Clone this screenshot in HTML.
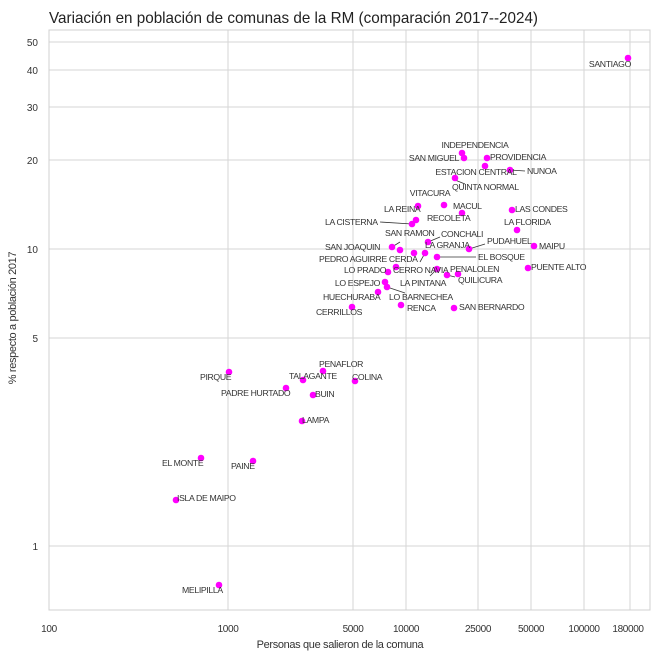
<!DOCTYPE html>
<html><head><meta charset="utf-8"><style>
body{margin:0;background:#fff}
svg text{font-family:"Liberation Sans Narrow","Liberation Sans",sans-serif;fill:#333}
.lab text{letter-spacing:-0.35px}
</style></head><body>
<svg width="660" height="660" viewBox="0 0 660 660" xmlns="http://www.w3.org/2000/svg">
<rect width="660" height="660" fill="#fff"/>
<g stroke="#d6d6d6" stroke-width="1">
<line x1="49" x2="650" y1="42" y2="42"/><line x1="49" x2="650" y1="70" y2="70"/>
<line x1="49" x2="650" y1="107" y2="107"/><line x1="49" x2="650" y1="160" y2="160"/>
<line x1="49" x2="650" y1="249" y2="249"/><line x1="49" x2="650" y1="338" y2="338"/>
<line x1="49" x2="650" y1="546" y2="546"/>
<line x1="228" x2="228" y1="30" y2="610"/><line x1="353" x2="353" y1="30" y2="610"/>
<line x1="406" x2="406" y1="30" y2="610"/><line x1="478" x2="478" y1="30" y2="610"/>
<line x1="531" x2="531" y1="30" y2="610"/><line x1="584" x2="584" y1="30" y2="610"/>
<line x1="630" x2="630" y1="30" y2="610"/>
</g>
<rect x="49" y="30" width="601" height="580" fill="none" stroke="#d0d0d0"/>
<text x="49" y="23" font-size="16" textLength="489" lengthAdjust="spacingAndGlyphs" style="fill:#222">Variación en población de comunas de la RM (comparación 2017--2024)</text>
<g font-size="10" text-anchor="end">
<text x="38" y="46">50</text><text x="38" y="74">40</text><text x="38" y="111">30</text>
<text x="38" y="164">20</text><text x="38" y="253">10</text><text x="38" y="342">5</text><text x="38" y="550">1</text>
</g>
<g font-size="10" text-anchor="middle" class="lab">
<text x="49" y="632">100</text><text x="228" y="632">1000</text><text x="353" y="632">5000</text>
<text x="406" y="632">10000</text><text x="478" y="632">25000</text><text x="531" y="632">50000</text>
<text x="584" y="632">100000</text><text x="628" y="632">180000</text>
<text x="340" y="648" font-size="11">Personas que salieron de la comuna</text>
<text transform="translate(16,318) rotate(-90)" font-size="11">% respecto a población 2017</text>
</g>
<g stroke="#333" stroke-width="0.8">
<line x1="380" y1="222" x2="412" y2="224"/><line x1="510" y1="170" x2="525" y2="171"/>
<line x1="455" y1="180" x2="465" y2="184"/><line x1="392" y1="247" x2="400" y2="242"/>
<line x1="437" y1="257" x2="476" y2="257"/><line x1="469" y1="249" x2="485" y2="244"/>
<line x1="425" y1="253" x2="420" y2="262"/><line x1="428" y1="242" x2="440" y2="237"/>
<line x1="387" y1="287" x2="405" y2="293"/><line x1="447" y1="275" x2="455" y2="277"/>
<line x1="437" y1="269" x2="430" y2="276"/>
</g>
<g fill="#ff00ff">
<circle cx="628" cy="58" r="3.3"/><circle cx="462" cy="153" r="3.3"/><circle cx="464" cy="158" r="3.3"/>
<circle cx="487" cy="158" r="3.3"/><circle cx="485" cy="166" r="3.3"/><circle cx="510" cy="170" r="3.3"/>
<circle cx="455" cy="178" r="3.3"/><circle cx="418" cy="206" r="3.3"/><circle cx="444" cy="205" r="3.3"/>
<circle cx="416" cy="220" r="3.3"/><circle cx="412" cy="224" r="3.3"/><circle cx="462" cy="213" r="3.3"/>
<circle cx="512" cy="210" r="3.3"/><circle cx="517" cy="230" r="3.3"/><circle cx="400" cy="250" r="3.3"/>
<circle cx="392" cy="247" r="3.3"/><circle cx="428" cy="242" r="3.3"/><circle cx="425" cy="253" r="3.3"/>
<circle cx="414" cy="253" r="3.3"/><circle cx="469" cy="249" r="3.3"/><circle cx="534" cy="246" r="3.3"/>
<circle cx="437" cy="257" r="3.3"/><circle cx="528" cy="268" r="3.3"/><circle cx="396" cy="267" r="3.3"/>
<circle cx="388" cy="272" r="3.3"/><circle cx="458" cy="274" r="3.3"/><circle cx="447" cy="275" r="3.3"/>
<circle cx="437" cy="269" r="3.3"/><circle cx="385" cy="282" r="3.3"/><circle cx="387" cy="287" r="3.3"/>
<circle cx="378" cy="292" r="3.3"/><circle cx="352" cy="307" r="3.3"/><circle cx="401" cy="305" r="3.3"/>
<circle cx="454" cy="308" r="3.3"/><circle cx="323" cy="371" r="3.3"/><circle cx="303" cy="380" r="3.3"/>
<circle cx="355" cy="381" r="3.3"/><circle cx="229" cy="372" r="3.3"/><circle cx="286" cy="388" r="3.3"/>
<circle cx="313" cy="395" r="3.3"/><circle cx="302" cy="421" r="3.3"/><circle cx="201" cy="458" r="3.3"/>
<circle cx="253" cy="461" r="3.3"/><circle cx="176" cy="500" r="3.3"/><circle cx="219" cy="585" r="3.3"/>
</g>
<g font-size="8.7" class="lab">
<text x="631" y="67" text-anchor="end">SANTIAGO</text>
<text x="475" y="148" text-anchor="middle">INDEPENDENCIA</text>
<text x="459" y="161" text-anchor="end">SAN MIGUEL</text>
<text x="490" y="160">PROVIDENCIA</text>
<text x="476" y="175" text-anchor="middle">ESTACION CENTRAL</text>
<text x="527" y="174">NUNOA</text>
<text x="452" y="190">QUINTA NORMAL</text>
<text x="430" y="196" text-anchor="middle">VITACURA</text>
<text x="453" y="209">MACUL</text>
<text x="384" y="212">LA REINA</text>
<text x="427" y="221">RECOLETA</text>
<text x="515" y="212">LAS CONDES</text>
<text x="504" y="225">LA FLORIDA</text>
<text x="325" y="225">LA CISTERNA</text>
<text x="385" y="236">SAN RAMON</text>
<text x="441" y="237">CONCHALI</text>
<text x="487" y="244">PUDAHUEL</text>
<text x="539" y="249">MAIPU</text>
<text x="380" y="250" text-anchor="end">SAN JOAQUIN</text>
<text x="425" y="248">LA GRANJA</text>
<text x="319" y="262">PEDRO AGUIRRE CERDA</text>
<text x="478" y="260">EL BOSQUE</text>
<text x="531" y="270">PUENTE ALTO</text>
<text x="344" y="273">LO PRADO</text>
<text x="393" y="273">CERRO NAVIA</text>
<text x="450" y="272">PENALOLEN</text>
<text x="458" y="283">QUILICURA</text>
<text x="400" y="286">LA PINTANA</text>
<text x="380" y="286" text-anchor="end">LO ESPEJO</text>
<text x="389" y="300">LO BARNECHEA</text>
<text x="323" y="300">HUECHURABA</text>
<text x="316" y="315">CERRILLOS</text>
<text x="407" y="311">RENCA</text>
<text x="459" y="310">SAN BERNARDO</text>
<text x="319" y="367">PENAFLOR</text>
<text x="289" y="379">TALAGANTE</text>
<text x="352" y="380">COLINA</text>
<text x="200" y="380">PIRQUE</text>
<text x="221" y="396">PADRE HURTADO</text>
<text x="315" y="397">BUIN</text>
<text x="302" y="423">LAMPA</text>
<text x="162" y="466">EL MONTE</text>
<text x="231" y="469">PAINE</text>
<text x="177" y="501">ISLA DE MAIPO</text>
<text x="182" y="593">MELIPILLA</text>
</g>
</svg>
</body></html>
